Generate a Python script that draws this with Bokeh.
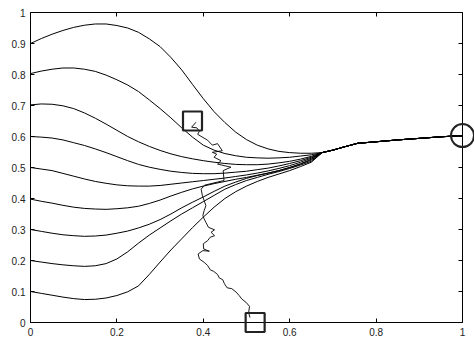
from bokeh.plotting import figure
from bokeh.models import Range1d, FixedTicker, LinearAxis
from bokeh.embed import file_html
from bokeh.resources import INLINE

# ---- data ----
x_ticks = [0, 0.2, 0.4, 0.6, 0.8, 1]
x_tick_labels = ["0", "0.2", "0.4", "0.6", "0.8", "1"]
y_ticks = [0, 0.1, 0.2, 0.3, 0.4, 0.5, 0.6, 0.7, 0.8, 0.9, 1]
y_tick_labels = ["0", "0.1", "0.2", "0.3", "0.4", "0.5", "0.6", "0.7", "0.8", "0.9", "1"]

curve_x = [0, 0.025, 0.05, 0.075, 0.1, 0.125, 0.15, 0.175, 0.2, 0.225, 0.25, 0.275, 0.3,
           0.325, 0.35, 0.375, 0.4, 0.425, 0.45, 0.475, 0.5, 0.525, 0.55, 0.575, 0.6, 0.625, 0.65]
curve_09 = [0.900, 0.916, 0.930, 0.942, 0.952, 0.959, 0.963, 0.963, 0.958, 0.950, 0.936, 0.915, 0.890,
            0.855, 0.815, 0.768, 0.722, 0.680, 0.645, 0.614, 0.590, 0.572, 0.560, 0.552, 0.548, 0.546, 0.546]
curve_08 = [0.803, 0.811, 0.817, 0.821, 0.821, 0.817, 0.810, 0.798, 0.783, 0.766, 0.745, 0.718, 0.690,
            0.660, 0.628, 0.598, 0.572, 0.556, 0.545, 0.538, 0.533, 0.531, 0.530, 0.531, 0.533, 0.537, 0.541]
curve_07 = [0.702, 0.705, 0.704, 0.699, 0.690, 0.676, 0.659, 0.640, 0.620, 0.600, 0.583, 0.568, 0.555,
            0.544, 0.535, 0.528, 0.522, 0.517, 0.513, 0.510, 0.509, 0.509, 0.511, 0.515, 0.520, 0.527, 0.536]
curve_06 = [0.600, 0.598, 0.595, 0.589, 0.580, 0.571, 0.560, 0.548, 0.535, 0.522, 0.510, 0.501, 0.494,
            0.488, 0.484, 0.481, 0.480, 0.480, 0.482, 0.485, 0.488, 0.493, 0.498, 0.505, 0.513, 0.522, 0.533]
curve_05 = [0.500, 0.495, 0.490, 0.481, 0.472, 0.463, 0.455, 0.449, 0.444, 0.441, 0.440, 0.440, 0.442,
            0.446, 0.450, 0.454, 0.458, 0.462, 0.466, 0.471, 0.476, 0.482, 0.489, 0.497, 0.506, 0.517, 0.530]
curve_04 = [0.398, 0.391, 0.385, 0.378, 0.372, 0.368, 0.366, 0.365, 0.367, 0.370, 0.375, 0.384, 0.395,
            0.408, 0.420, 0.431, 0.440, 0.448, 0.455, 0.462, 0.468, 0.475, 0.482, 0.490, 0.500, 0.512, 0.527]
curve_03 = [0.300, 0.294, 0.288, 0.283, 0.280, 0.278, 0.279, 0.282, 0.288, 0.295, 0.305, 0.317, 0.332,
            0.350, 0.370, 0.388, 0.405, 0.423, 0.440, 0.453, 0.465, 0.474, 0.482, 0.490, 0.500, 0.511, 0.524]
curve_02 = [0.200, 0.195, 0.190, 0.186, 0.183, 0.181, 0.183, 0.190, 0.205, 0.228, 0.256, 0.282, 0.305,
            0.328, 0.350, 0.370, 0.390, 0.410, 0.430, 0.445, 0.458, 0.468, 0.478, 0.487, 0.497, 0.508, 0.520]
curve_01 = [0.100, 0.094, 0.088, 0.082, 0.077, 0.074, 0.075, 0.079, 0.087, 0.099, 0.118, 0.155, 0.195,
            0.234, 0.270, 0.306, 0.340, 0.372, 0.400, 0.422, 0.440, 0.455, 0.468, 0.479, 0.490, 0.503, 0.517]

tail_x = [0.675, 0.7, 0.725, 0.757, 0.8, 0.85, 0.9, 0.95, 1.0]
tail_y = [0.548, 0.556, 0.566, 0.578, 0.583, 0.589, 0.594, 0.599, 0.603]

walk_x = [0.383, 0.373, 0.385, 0.391, 0.387, 0.410, 0.421, 0.433, 0.444, 0.421, 0.431, 0.425,
          0.441, 0.433, 0.464, 0.446, 0.448, 0.403, 0.395, 0.398, 0.402, 0.406, 0.402, 0.399,
          0.402, 0.406, 0.412, 0.426, 0.418, 0.426, 0.416, 0.410, 0.400, 0.401, 0.414, 0.399,
          0.388, 0.391, 0.402, 0.410, 0.416, 0.424, 0.433, 0.437, 0.445, 0.449, 0.455, 0.466,
          0.476, 0.483, 0.489, 0.499, 0.507, 0.505, 0.508]
walk_y = [0.646, 0.630, 0.628, 0.617, 0.607, 0.588, 0.572, 0.577, 0.554, 0.549, 0.543, 0.533,
          0.522, 0.511, 0.501, 0.490, 0.458, 0.443, 0.430, 0.409, 0.393, 0.377, 0.361, 0.345,
          0.334, 0.323, 0.307, 0.299, 0.291, 0.280, 0.275, 0.264, 0.254, 0.237, 0.230, 0.232,
          0.221, 0.205, 0.194, 0.184, 0.170, 0.165, 0.155, 0.144, 0.138, 0.125, 0.112, 0.109,
          0.098, 0.087, 0.076, 0.065, 0.052, 0.032, 0.016]

square_x = [0.375, 0.52]
square_y = [0.65, 0.0]
circle_x = [1.0]
circle_y = [0.603]

# ---- figure ----
p = figure(frame_width=432, frame_height=310,
           x_range=Range1d(0, 1), y_range=Range1d(0, 1),
           output_backend="svg", toolbar_location=None,
           min_border_left=30, min_border_right=12, min_border_top=12, min_border_bottom=15)
p.outline_line_color = None
p.grid.visible = False
p.background_fill_color = "white"
p.border_fill_color = "white"

font = "Liberation Sans"

def style_axis(ax):
    ax.axis_line_color = "black"
    ax.axis_line_width = 1
    ax.major_tick_in = 4
    ax.major_tick_out = 0
    ax.minor_tick_in = 4
    ax.minor_tick_out = 0
    ax.major_tick_line_color = "black"
    ax.minor_tick_line_color = "black"
    ax.major_label_text_font = font
    ax.major_label_text_font_size = "10px"
    ax.major_label_text_color = "#222222"
    ax.major_label_standoff = 5

p.xaxis.ticker = FixedTicker(ticks=x_ticks)
p.xaxis.major_label_overrides = {t: l for t, l in zip(x_ticks, x_tick_labels)}
p.yaxis.ticker = FixedTicker(ticks=y_ticks)
p.yaxis.major_label_overrides = {t: l for t, l in zip(y_ticks, y_tick_labels)}
style_axis(p.xaxis[0])
style_axis(p.yaxis[0])
p.xaxis.minor_tick_line_color = None
p.yaxis.minor_tick_line_color = None

# top and right box sides: ticks only, no labels (ticks given as minor ticks)
top_axis = LinearAxis(ticker=FixedTicker(ticks=[], minor_ticks=x_ticks))
right_axis = LinearAxis(ticker=FixedTicker(ticks=[], minor_ticks=y_ticks))
style_axis(top_axis)
style_axis(right_axis)
p.add_layout(top_axis, "above")
p.add_layout(right_axis, "right")

for c in [curve_09, curve_08, curve_07, curve_06, curve_05, curve_04, curve_03, curve_02, curve_01]:
    p.line(curve_x + tail_x, c + tail_y, line_color="black", line_width=1)

p.line(walk_x, walk_y, line_color="black", line_width=0.9)

p.scatter(square_x, square_y, marker="square", size=19, fill_color=None,
          line_color="#222222", line_width=2.2, level="overlay")
p.scatter(circle_x, circle_y, marker="circle", size=23, fill_color=None,
          line_color="#222222", line_width=2, level="overlay")

open("out.html", "w").write(file_html(p, INLINE))
